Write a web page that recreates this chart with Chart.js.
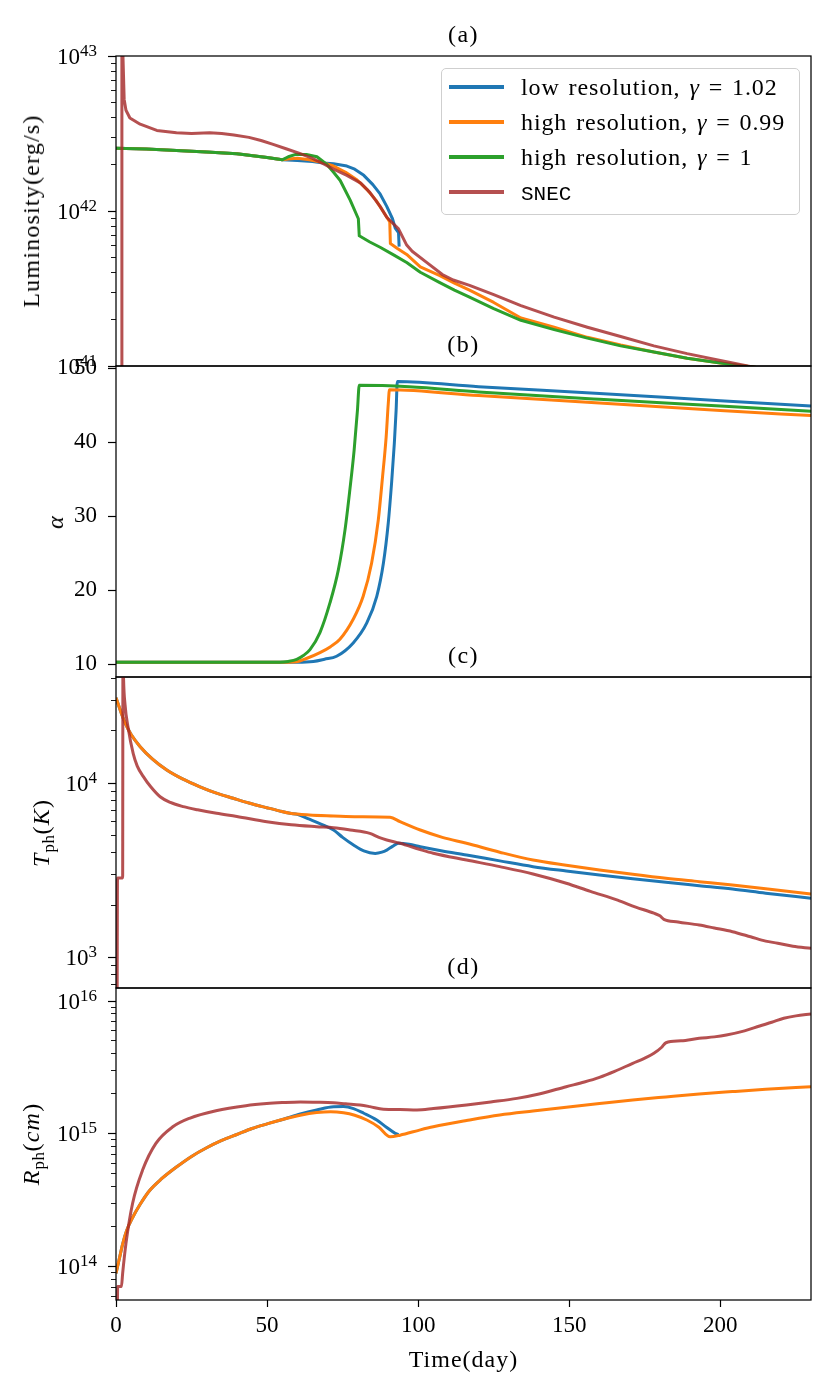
<!DOCTYPE html>
<html>
<head>
<meta charset="utf-8">
<script src="https://cdn.jsdelivr.net/npm/chart.js@4.4.1/dist/chart.umd.min.js"></script>
<style>
    html, body { margin: 0; padding: 0; background: #fff; }
    #fig { position: relative; width: 829px; height: 1392px; overflow: hidden;
           font-family: 'Liberation Serif', 'Times New Roman', serif; color: #000; }
    #fig canvas { position: absolute; left: 0; }
    .txt { position: absolute; white-space: nowrap; line-height: 1; transform: translate(-50%, -50%); }
    .ylab { position: absolute; white-space: nowrap; line-height: 1; font-size: 24px; letter-spacing: 1.2px;
            transform: translate(-50%, -50%) rotate(-90deg); }
    .ylab .sub { font-size: 17px; position: relative; top: 5px; line-height: 0; letter-spacing: 0.5px; }
    .tick { position: absolute; left: 0; width: 97px; text-align: right; font-size: 23px;
            line-height: 23px; height: 23px; white-space: nowrap; }
    .tick .sup { font-size: 17px; position: relative; top: -8px; line-height: 0; }
    #legend { position: absolute; left: 441px; top: 68px; width: 357px; height: 145px;
              border: 1px solid #cfcfcf; border-radius: 5px; background: rgba(255,255,255,0.8); }
    #legend .swatch { position: absolute; left: 7px; width: 55px; height: 3.5px; }
    #legend .name { position: absolute; left: 79px; font-size: 24px; line-height: 24px;
                    letter-spacing: 0.9px; word-spacing: 2px; white-space: nowrap; }
    #legend .mono { font-family: 'Liberation Mono', 'DejaVu Sans Mono', monospace; font-size: 21px; letter-spacing: 0; }
</style>
</head>
<body>
<div id="fig"></div>
<script>
// shared time axis (days)
const dayMin = 0;
const dayMax = 230;
const dayStep = 50;

// series labels and colours (same order in every panel)
const seriesNames = ['low resolution, γ = 1.02', 'high resolution, γ = 0.99', 'high resolution, γ = 1', 'SNEC'];
const seriesColors = ['#1f77b4', '#ff7f0e', '#2ca02c', 'rgba(165, 42, 42, 0.82)'];
const drawOrder = [4, 3, 2, 1]; // SNEC on top

// (a) luminosity, [day, log10 L (erg/s)]
const lumLowRes = [[0, 42.405], [10, 42.40], [20, 42.39], [30, 42.38], [40, 42.37], [50, 42.345], [55, 42.33],
    [60, 42.325], [65, 42.32], [68.6, 42.31], [72, 42.305], [76.4, 42.29], [79, 42.27], [82, 42.23], [85, 42.17],
    [87.4, 42.11], [89.6, 42.03], [91.5, 41.95], [92.4, 41.89], [93.5, 41.86], [93.7, 41.77]];
const lumHighRes099 = [[0, 42.405], [10, 42.40], [20, 42.39], [30, 42.38], [40, 42.37], [50, 42.345], [55, 42.33],
    [57, 42.335], [60, 42.34], [64, 42.33], [68, 42.315], [72, 42.29], [76, 42.25], [79.8, 42.20], [83, 42.14],
    [86, 42.07], [88, 42.01], [90.6, 41.93], [90.8, 41.79], [93, 41.76], [96.2, 41.72], [100.7, 41.64], [107, 41.585],
    [112, 41.535], [117, 41.49], [125, 41.41], [134, 41.31], [145, 41.25], [156, 41.185], [167, 41.135],
    [178, 41.09], [189, 41.05], [200, 41.02], [210, 40.995], [220, 40.972], [230, 40.95]];
const lumHighRes1 = [[0, 42.405], [10, 42.40], [20, 42.39], [30, 42.38], [40, 42.37], [50, 42.345], [55, 42.33],
    [57, 42.35], [59.5, 42.365], [63, 42.365], [66.5, 42.35], [69.8, 42.30], [72, 42.25], [74.2, 42.197],
    [77.5, 42.07], [80.2, 41.95], [80.5, 41.84], [84, 41.80], [87.4, 41.766], [92, 41.715], [96.2, 41.668],
    [100.7, 41.605], [107, 41.54], [112, 41.49], [117, 41.445], [125, 41.37], [134, 41.295], [145, 41.235],
    [156, 41.18], [167, 41.13], [178, 41.09], [189, 41.05], [200, 41.02], [210, 40.995], [220, 40.972], [230, 40.95]];
const lumSnec = [[1.9, 40.5], [1.95, 43.5], [2.3, 43.0], [2.7, 42.72], [3.3, 42.65], [4.6, 42.60], [8, 42.56],
    [13.5, 42.52], [20, 42.505], [25, 42.50], [31, 42.505], [35, 42.50], [39, 42.49], [44, 42.475], [48, 42.455],
    [52, 42.43], [56.5, 42.40], [61, 42.37], [65, 42.34], [68.6, 42.305], [72, 42.27], [76.4, 42.23], [81, 42.18],
    [84, 42.12], [87.4, 42.03], [89.6, 41.96], [93.5, 41.885], [96.2, 41.78], [98, 41.74], [103, 41.665],
    [108, 41.59], [111.6, 41.555], [117, 41.52], [125, 41.46], [134, 41.39], [145, 41.315], [156, 41.25],
    [167, 41.19], [178, 41.13], [189, 41.08], [200, 41.035], [209, 41.0], [220, 40.96], [230, 40.92]];
const lumTickExp = [41, 42, 43];
const lumRange = [1e41, 1e43];

// (b) alpha, [day, alpha]
const alphaLowRes = [[0, 10.3], [60, 10.3], [65.3, 10.4], [69, 10.7], [73, 11.1], [78.5, 12.9], [83, 15.6],
    [86.3, 19.2], [88.5, 23.7], [90.1, 29.1], [91.2, 34.5], [92.1, 39.8], [92.7, 44.3], [93.1, 48.2],
    [120, 47.5], [160, 46.6], [200, 45.6], [230, 44.9]];
const alphaHighRes099 = [[0, 10.3], [57, 10.3], [59.8, 10.35], [63, 10.8], [67.5, 11.6], [71, 12.4], [74.1, 13.4],
    [78.5, 16.1], [81.8, 19.2], [84.6, 23.7], [86.8, 29.5], [88.2, 35.3], [89.4, 40.7], [90.1, 45.2], [90.5, 47.1],
    [120, 46.3], [160, 45.3], [200, 44.3], [230, 43.6]];
const alphaHighRes1 = [[0, 10.3], [54.3, 10.3], [57, 10.4], [59.8, 10.67], [62, 11.2], [64.2, 12.0], [67.5, 14.3],
    [70.8, 18.3], [73.6, 22.8], [75.8, 28.2], [77.4, 33.6], [78.8, 38.9], [79.9, 44.3], [80.5, 47.7], [97, 47.5],
    [120, 46.8], [160, 45.8], [200, 44.9], [230, 44.2]];
const alphaTicks = [10, 20, 30, 40, 50];
const alphaRange = [8.3, 50.3];

// (c) photospheric temperature, [day, log10 T (K)]
const tempLowRes = [[0, 4.49], [1, 4.44], [2, 4.39], [3, 4.346], [5, 4.28], [8, 4.21], [12, 4.14], [16.8, 4.076],
    [22, 4.025], [27.8, 3.98], [33, 3.945], [38.8, 3.914], [44, 3.887], [49.9, 3.86], [54, 3.842], [57.6, 3.828],
    [60, 3.822], [64, 3.794], [68, 3.765], [72, 3.732], [75, 3.69], [78.6, 3.646], [82, 3.612], [85.8, 3.598],
    [88, 3.605], [89.6, 3.617], [91.5, 3.638], [93.5, 3.656], [97, 3.65], [100.7, 3.636], [108, 3.612],
    [116, 3.589], [127, 3.555], [138, 3.522], [149, 3.497], [160, 3.474], [171, 3.452], [182, 3.432],
    [193, 3.413], [204, 3.394], [215, 3.37], [230, 3.341]];
const tempHighRes099 = [[0, 4.49], [1, 4.44], [2, 4.39], [3, 4.346], [5, 4.28], [8, 4.21], [12, 4.14],
    [16.8, 4.076], [22, 4.025], [27.8, 3.98], [33, 3.945], [38.8, 3.914], [44, 3.887], [49.9, 3.86], [54, 3.842],
    [57.6, 3.828], [64, 3.818], [72, 3.8125], [80, 3.808], [90.7, 3.805], [94, 3.78], [100.7, 3.732],
    [108, 3.69], [116, 3.656], [127, 3.605], [138, 3.56], [149, 3.53], [160, 3.503], [171, 3.478],
    [182, 3.455], [193, 3.436], [204, 3.417], [215, 3.395], [230, 3.365]];
const tempSnec = [[0.35, 2.5], [0.5, 3.457], [2.2, 3.457], [2.3, 4.8], [2.5, 4.6], [3, 4.45], [4, 4.32],
    [5.7, 4.17], [7, 4.1], [9, 4.04], [11.5, 3.98], [14.6, 3.923], [18, 3.89], [22.3, 3.866], [27, 3.848],
    [33.3, 3.828], [40, 3.81], [49.9, 3.78], [58, 3.762], [66.4, 3.751], [72, 3.745], [77.5, 3.732], [84, 3.713],
    [87, 3.69], [89.6, 3.675], [94, 3.656], [100.7, 3.62], [105, 3.599], [116, 3.56], [127, 3.522], [138, 3.48],
    [149, 3.427], [157, 3.38], [166, 3.33], [172, 3.29], [178, 3.255], [180, 3.24], [181.3, 3.22], [186, 3.205],
    [193, 3.187], [198, 3.17], [204, 3.149], [210, 3.12], [215, 3.095], [219, 3.083], [224, 3.065], [230, 3.054]];
const tempTickExp = [3, 4];
const tempRange = [670, 40700];

// (d) photospheric radius, [day, log10 R (cm)]
const radLowRes = [[0, 13.95], [1, 14.05], [2.2, 14.17], [3.5, 14.27], [5.5, 14.37], [8, 14.47], [11, 14.57],
    [15, 14.66], [20, 14.75], [25, 14.83], [30, 14.895], [35, 14.95], [40, 14.995], [45, 15.04], [50, 15.075],
    [55.4, 15.11], [61, 15.15], [66.4, 15.18], [72, 15.204], [75.3, 15.205], [78.6, 15.19], [82, 15.155],
    [86.3, 15.104], [89.5, 15.05], [92.4, 15.004], [93.5, 14.995]];
const radHighRes099 = [[0, 13.95], [1, 14.05], [2.2, 14.17], [3.5, 14.27], [5.5, 14.37], [8, 14.47], [11, 14.57],
    [15, 14.66], [20, 14.75], [25, 14.83], [30, 14.895], [35, 14.95], [40, 14.995], [45, 15.04], [50, 15.075],
    [55.4, 15.11], [61, 15.14], [66.4, 15.16], [71, 15.167], [75.3, 15.159], [79, 15.14], [83, 15.104], [87, 15.05],
    [90.7, 14.978], [94, 14.99], [100.7, 15.03], [105, 15.053], [116, 15.1], [127, 15.142], [138, 15.172],
    [149, 15.2], [160, 15.228], [171, 15.255], [182, 15.278], [193, 15.3], [204, 15.318], [215, 15.335], [230, 15.355]];
const radSnec = [[0.4, 13.5], [0.55, 13.85], [1.8, 13.85], [2.2, 13.95], [3.3, 14.175], [5.5, 14.477],
    [8.8, 14.727], [13.2, 14.928], [18.8, 15.053], [24.3, 15.117], [33.1, 15.174], [43, 15.212], [49.9, 15.228],
    [55, 15.235], [61, 15.24], [66, 15.238], [72, 15.234], [76, 15.226], [80.8, 15.217], [84, 15.205],
    [88.5, 15.185], [94, 15.183], [99.6, 15.18], [105, 15.19], [116, 15.217], [124, 15.24], [132.7, 15.267],
    [140, 15.3], [149, 15.355], [155, 15.39], [160, 15.425], [165, 15.47], [171, 15.531], [175, 15.57],
    [178, 15.606], [180.5, 15.65], [182, 15.686], [187, 15.70], [193, 15.719], [198, 15.73], [202, 15.744],
    [208, 15.775], [213, 15.812], [217, 15.84], [221, 15.87], [225, 15.888], [230, 15.902]];
const radTickExp = [14, 15, 16];
const radRange = [5.61e13, 1.253e16];

// figure geometry
const FIG_W = 829;
const PLOT_LEFT = 116;
const PLOT_RIGHT = 811;
const PAD = 32;
const X_AXIS_H = 72;
const SERIF = "'Liberation Serif', 'Times New Roman', serif";
const fig = document.getElementById('fig');

/**
 * Turns [day, value] pairs into chart points (log10 values are raised back to linear)
 */
function toPoints(pairs, fromLog) {
    return pairs.map(p => ({ x: p[0], y: fromLog ? Math.pow(10, p[1]) : p[1] }));
}

function lineSet(pairs, idx, fromLog, smooth) {
    return {
        label: seriesNames[idx],
        data: toPoints(pairs, fromLog),
        borderColor: seriesColors[idx],
        backgroundColor: seriesColors[idx],
        borderWidth: 3,
        borderJoinStyle: 'round',
        cubicInterpolationMode: smooth ? 'monotone' : 'default',
        tension: 0,
        pointRadius: 0,
        pointHoverRadius: 0,
        fill: false,
        clip: 0,
        order: drawOrder[idx]
    };
}

// significand check for log ticks: only 1..9 x 10^n get a tick mark
function logTickKind(value) {
    if (!(value > 0)) return 'none';
    const e = Math.floor(Math.log10(value) + 1e-9);
    const s = value / Math.pow(10, e);
    if (Math.abs(s - Math.round(s)) > 1e-6) return 'none';
    return Math.round(s) === 1 || Math.round(s) === 10 ? 'major' : 'minor';
}

// draws the box around each panel
const framePlugin = {
    id: 'frame',
    afterDatasetsDraw(chart) {
        const a = chart.chartArea;
        const ctx = chart.ctx;
        ctx.save();
        ctx.strokeStyle = '#000';
        ctx.lineWidth = 1.25;
        ctx.strokeRect(a.left, a.top, a.right - a.left, a.bottom - a.top);
        ctx.restore();
    }
};

function logAxis(range) {
    return {
        type: 'logarithmic',
        min: range[0],
        max: range[1],
        afterFit(scale) { scale.width = PLOT_LEFT; },
        border: { display: false },
        grid: {
            drawOnChartArea: false,
            drawTicks: true,
            tickLength: 8,
            tickColor: ctx => logTickKind(ctx.tick && ctx.tick.value) === 'none' ? 'rgba(0,0,0,0)' : '#000',
            tickWidth: ctx => logTickKind(ctx.tick && ctx.tick.value) === 'major' ? 1.2 : 0.9,
            tickBorderDash: ctx => logTickKind(ctx.tick && ctx.tick.value) === 'major' ? [] : [5, 20],
            tickBorderDashOffset: ctx => logTickKind(ctx.tick && ctx.tick.value) === 'major' ? 0 : 22
        },
        ticks: { display: false, autoSkip: false }
    };
}

function linearAxis(range, step) {
    return {
        type: 'linear',
        min: range[0],
        max: range[1],
        afterFit(scale) { scale.width = PLOT_LEFT; },
        border: { display: false },
        grid: { drawOnChartArea: false, tickLength: 8, tickColor: '#000', tickWidth: 1.2 },
        ticks: {
            stepSize: step,
            includeBounds: false,
            autoSkip: false,
            padding: 11,
            color: '#000',
            font: { family: SERIF, size: 23 }
        }
    };
}

function timeAxis(show) {
    return {
        type: 'linear',
        min: dayMin,
        max: dayMax,
        display: show,
        afterFit(scale) { if (show) scale.height = X_AXIS_H; },
        border: { display: false },
        grid: { drawOnChartArea: false, tickLength: 7, tickColor: '#000', tickWidth: 1.2 },
        ticks: {
            stepSize: dayStep,
            includeBounds: false,
            autoSkip: false,
            maxRotation: 0,
            padding: 5,
            color: '#000',
            font: { family: SERIF, size: 23 }
        }
    };
}

/**
 * Builds one stacked panel as its own chart so that lines are clipped to that panel
 */
function makePanel(top, bottom, yAxis, datasets, showX) {
    const plotH = bottom - top;
    const padBottom = showX ? 8 : PAD;
    const h = PAD + plotH + (showX ? X_AXIS_H : 0) + padBottom;
    const canvas = document.createElement('canvas');
    canvas.width = FIG_W;
    canvas.height = h;
    canvas.style.width = FIG_W + 'px';
    canvas.style.height = h + 'px';
    canvas.style.top = (top - PAD) + 'px';
    fig.appendChild(canvas);

    const chart = new Chart(canvas.getContext('2d'), {
        type: 'line',
        data: { datasets: datasets },
        options: {
            responsive: false,
            animation: false,
            events: [],
            layout: { padding: { left: 0, right: FIG_W - PLOT_RIGHT, top: PAD, bottom: padBottom } },
            plugins: { legend: { display: false }, tooltip: { enabled: false }, title: { display: false } },
            scales: { x: timeAxis(showX), y: yAxis }
        },
        plugins: [framePlugin]
    });
    chart.pageTop = top - PAD;
    return chart;
}

function addText(html, cls, x, y, style) {
    const el = document.createElement('div');
    el.className = cls;
    el.innerHTML = html;
    el.style.left = x + 'px';
    el.style.top = y + 'px';
    if (style) Object.assign(el.style, style);
    fig.appendChild(el);
    return el;
}

// HTML tick labels 10^n placed with the chart's own log scale
function addLogTickLabels(chart, exps) {
    const scale = chart.scales.y;
    exps.forEach(e => {
        const y = chart.pageTop + scale.getPixelForValue(Math.pow(10, e));
        const el = document.createElement('div');
        el.className = 'tick';
        el.innerHTML = '10<span class="sup">' + e + '</span>';
        el.style.top = (y - 11.5) + 'px';
        fig.appendChild(el);
    });
}

function panelTitle(chart, text) {
    const a = chart.chartArea;
    addText(text, 'txt', (a.left + a.right) / 2, chart.pageTop + a.top - 22, { fontSize: '24px', letterSpacing: '1.5px' });
}

// panel (a): straight segments keep the sharp drops
const panelA = makePanel(56, 366, logAxis(lumRange), [
    lineSet(lumLowRes, 0, true, false),
    lineSet(lumHighRes099, 1, true, false),
    lineSet(lumHighRes1, 2, true, false),
    lineSet(lumSnec, 3, true, false)
], false);

// panel (b)
const panelB = makePanel(366, 677, linearAxis(alphaRange, alphaTicks[1] - alphaTicks[0]), [
    lineSet(alphaLowRes, 0, false, true),
    lineSet(alphaHighRes099, 1, false, true),
    lineSet(alphaHighRes1, 2, false, true)
], false);

// panel (c)
const panelC = makePanel(677, 988, logAxis(tempRange), [
    lineSet(tempLowRes, 0, true, true),
    lineSet(tempHighRes099, 1, true, true),
    lineSet(tempSnec, 3, true, true)
], false);

// panel (d)
const panelD = makePanel(988, 1300, logAxis(radRange), [
    lineSet(radLowRes, 0, true, true),
    lineSet(radHighRes099, 1, true, true),
    lineSet(radSnec, 3, true, true)
], true);

addLogTickLabels(panelA, lumTickExp);
addLogTickLabels(panelC, tempTickExp);
addLogTickLabels(panelD, radTickExp);

panelTitle(panelA, '(a)');
panelTitle(panelB, '(b)');
panelTitle(panelC, '(c)');
panelTitle(panelD, '(d)');

// axis titles
function midY(chart) { return chart.pageTop + (chart.chartArea.top + chart.chartArea.bottom) / 2; }
addText('Luminosity(erg/s)', 'ylab', 31, midY(panelA));
addText('<i>α</i>', 'ylab', 55, midY(panelB));
addText('<i>T</i><span class="sub">ph</span>(<i>K</i>)', 'ylab', 41, midY(panelC));
addText('<i>R</i><span class="sub">ph</span>(<i>cm</i>)', 'ylab', 31, midY(panelD));
addText('Time(day)', 'txt', (PLOT_LEFT + PLOT_RIGHT) / 2, 1359, { fontSize: '24px', letterSpacing: '1px' });

// legend (panel a)
const legend = document.createElement('div');
legend.id = 'legend';
fig.appendChild(legend);
seriesNames.forEach((name, i) => {
    const rowY = 18 + i * 35;
    const sw = document.createElement('div');
    sw.className = 'swatch';
    sw.style.top = (rowY - 1.75) + 'px';
    sw.style.background = seriesColors[i];
    legend.appendChild(sw);
    const tx = document.createElement('div');
    tx.className = 'name';
    tx.style.top = (rowY - 12) + 'px';
    if (name === 'SNEC') {
        tx.innerHTML = '<span class="mono">' + name + '</span>';
    } else {
        tx.innerHTML = name.replace('γ', '<i>γ</i>');
    }
    legend.appendChild(tx);
});
</script>
</body>
</html>
